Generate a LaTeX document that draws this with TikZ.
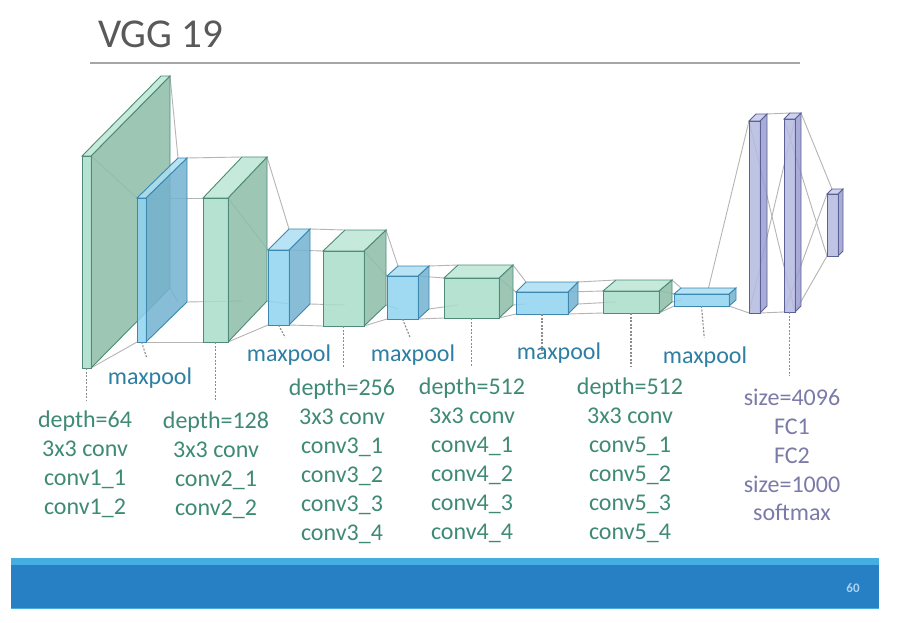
\documentclass[tikz,border=0pt]{standalone}
\usepackage{fontspec}
\setmainfont{Carlito}
\usetikzlibrary{calc}
\definecolor{convfront}{HTML}{A9DDC9}
\definecolor{convtop}{HTML}{BCE7D7}
\definecolor{convside}{HTML}{8DBDA9}
\definecolor{convedge}{HTML}{4F8B78}
\definecolor{poolfront}{HTML}{8FD3F0}
\definecolor{pooltop}{HTML}{ABDFF4}
\definecolor{poolside}{HTML}{73B2D0}
\definecolor{pooledge}{HTML}{3C88AE}
\definecolor{fcfront}{HTML}{B6BAE0}
\definecolor{fctop}{HTML}{C8CBEA}
\definecolor{fcside}{HTML}{9A9ECF}
\definecolor{fcedge}{HTML}{5B6196}
\definecolor{linkgray}{HTML}{B5B5B5}
\definecolor{leadgray}{HTML}{8C8C8C}
\definecolor{convtext}{HTML}{3F8A75}
\definecolor{pooltext}{HTML}{2E7FA3}
\definecolor{fctext}{HTML}{7B7BA8}
\definecolor{titlegray}{HTML}{595959}
\definecolor{rulegray}{HTML}{A6A6A6}
\definecolor{footblue}{HTML}{2780C3}
\definecolor{footlight}{HTML}{45AEE0}
\definecolor{pagenum}{HTML}{A9D2F0}
% corners of one layer: name, front x1, y1, x2, y2, depth dx, dy
\newcommand{\layerat}[7]{%
	\coordinate (#1-ftl) at (#2,#3);
	\coordinate (#1-ftr) at (#4,#3);
	\coordinate (#1-fbl) at (#2,#5);
	\coordinate (#1-fbr) at (#4,#5);
	\coordinate (#1-btl) at (#2+#6,#3-#7);
	\coordinate (#1-btr) at (#4+#6,#3-#7);
	\coordinate (#1-bbl) at (#2+#6,#5-#7);
	\coordinate (#1-bbr) at (#4+#6,#5-#7);
	\coordinate (#1-mid) at ({(#2+#4)/2},#5);
}
\newcommand{\layerdraw}[2]{%
	\filldraw[#2 side] (#1-ftr) -- (#1-btr) -- (#1-bbr) -- (#1-fbr) -- cycle;
	\filldraw[#2 top] (#1-ftl) -- (#1-btl) -- (#1-btr) -- (#1-ftr) -- cycle;
	\filldraw[#2 front] (#1-ftl) -- (#1-ftr) -- (#1-fbr) -- (#1-fbl) -- cycle;
}
\tikzset{
	conv front/.style={fill=convfront, draw=convedge, line width=0.9, fill opacity=0.85},
	conv top/.style={fill=convtop, draw=convedge, line width=0.9, fill opacity=0.85},
	conv side/.style={fill=convside, draw=convedge, line width=0.9, fill opacity=0.85},
	pool front/.style={fill=poolfront, draw=pooledge, line width=0.9, fill opacity=0.85},
	pool top/.style={fill=pooltop, draw=pooledge, line width=0.9, fill opacity=0.85},
	pool side/.style={fill=poolside, draw=pooledge, line width=0.9, fill opacity=0.85},
	fc front/.style={fill=fcfront, draw=fcedge, line width=0.9, fill opacity=0.85},
	fc top/.style={fill=fctop, draw=fcedge, line width=0.9, fill opacity=0.85},
	fc side/.style={fill=fcside, draw=fcedge, line width=0.9, fill opacity=0.85},
	link/.style={draw=linkgray, line width=0.9},
	leader/.style={draw=leadgray, line width=1.1, dash pattern=on 2pt off 1.5pt},
	convlabel/.style={text=convtext, align=center, inner sep=0, anchor=north, font=\fontsize{24}{29}\selectfont},
	poollabel/.style={text=pooltext, inner sep=0, font=\fontsize{24}{29}\selectfont},
	fclabel/.style={text=fctext, align=center, inner sep=0, anchor=north, font=\fontsize{24}{28.8}\selectfont}
}

\begin{document}
\begin{tikzpicture}[x=1pt, y=-1pt]
	%%%%% START %%%%%
	
	\fill[white] (0,0) rectangle (897,623);
	\useasboundingbox (0,0) rectangle (897,623);
	
	\node[anchor=base west, inner sep=0, text=titlegray, font=\fontsize{41}{41}\selectfont] (title) at (98,48) {VGG 19};
	\draw[rulegray, line width=1.3] (90,63) -- (800,63);
	
	\layerat{c1}{82}{156}{91}{368}{79}{80}
	\layerat{p1}{137}{198}{146}{342}{41}{40}
	\layerat{c2}{203}{198}{228}{342}{39}{41}
	\layerat{p2}{268}{250}{289}{325}{21}{21}
	\layerat{c3}{323}{251}{364}{326}{22}{21}
	\layerat{p3}{387}{276}{418}{319}{11}{10}
	\layerat{c4}{444}{278}{499}{318}{14}{13}
	\layerat{p4}{516}{292}{568}{314}{10}{10}
	\layerat{c5}{603}{291}{659}{313}{13}{11}
	\layerat{p5}{674}{294}{729}{306}{7}{6}
	\layerat{fc1}{749}{121}{760}{313}{7}{7}
	\layerat{fc2}{784}{119}{795}{312}{6}{6}
	\layerat{sm}{827}{194}{838}{256}{5}{5}
	
	% links between the layers
	\foreach \a/\b in {c1/p1, p1/c2, c2/p2, p2/c3, c3/p3, p3/c4, c4/p4, p4/c5, c5/p5}{
		\draw[link] (\a-btr) -- (\b-btl);
		\draw[link] (\a-ftr) -- (\b-ftl);
		\draw[link] (\a-fbr) -- (\b-fbl);
		\draw[link] (\a-bbr) -- (\b-bbl);
	}
	\draw[link] ($(p5-btl)!0.5!(p5-btr)$) -- (fc1-ftl);
	\draw[link] (p5-fbr) -- (fc1-fbl);
	\draw[link] (fc1-btr) -- (fc2-btl);
	\draw[link] (fc1-fbr) -- (fc2-fbl);
	\draw[link] (fc1-ftl) -- (fc2-fbr);
	\draw[link] (fc1-fbl) -- (fc2-ftr);
	\draw[link] (fc2-btr) -- (sm-btl);
	\draw[link] (fc2-fbr) -- (sm-fbl);
	\draw[link] (fc2-ftl) -- (sm-fbl);
	\draw[link] (fc2-fbl) -- (sm-ftl);
	
	\layerdraw{c1}{conv}
	\layerdraw{p1}{pool}
	\layerdraw{c2}{conv}
	\layerdraw{p2}{pool}
	\layerdraw{c3}{conv}
	\layerdraw{p3}{pool}
	\layerdraw{c4}{conv}
	\layerdraw{p4}{pool}
	\layerdraw{c5}{conv}
	\layerdraw{p5}{pool}
	\layerdraw{fc1}{fc}
	\layerdraw{fc2}{fc}
	\layerdraw{sm}{fc}
	
	% labels
	\node[convlabel] (c1lab) at (85,411) {depth=64\\3x3 conv\\conv1\_1\\conv1\_2};
	\node[convlabel] (c2lab) at (216,412) {depth=128\\3x3 conv\\conv2\_1\\conv2\_2};
	\node[convlabel] (c3lab) at (342,379) {depth=256\\3x3 conv\\conv3\_1\\conv3\_2\\conv3\_3\\conv3\_4};
	\node[convlabel] (c4lab) at (472,378) {depth=512\\3x3 conv\\conv4\_1\\conv4\_2\\conv4\_3\\conv4\_4};
	\node[convlabel] (c5lab) at (630,378) {depth=512\\3x3 conv\\conv5\_1\\conv5\_2\\conv5\_3\\conv5\_4};
	\node[fclabel] (fclab) at (792,389) {size=4096\\FC1\\FC2\\size=1000\\softmax};
	
	\node[poollabel] (p1lab) at (150,378) {maxpool};
	\node[poollabel] (p2lab) at (289,355) {maxpool};
	\node[poollabel] (p3lab) at (413,355) {maxpool};
	\node[poollabel] (p4lab) at (559,353) {maxpool};
	\node[poollabel] (p5lab) at (705,357) {maxpool};
	
	\foreach \l in {c1, c2, c3, c4, c5}
		\draw[leader, shorten >=11pt] (\l-mid) -- (\l-mid |- \l lab.north);
	\draw[leader, shorten >=13pt] (fc2-mid) -- (fc2-mid |- fclab.north);
	\draw[leader, shorten >=10pt] (p1-mid) -- (p1lab.north);
	\draw[leader, shorten >=8pt] (p2-mid) -- (p2lab.north);
	\draw[leader, shorten >=8pt] (p3-mid) -- (p3lab.north);
	\draw[leader] (p4-mid) -- (p4-mid |- p4lab.center);
	\draw[leader, shorten >=9pt] (p5-mid) -- (p5lab.north);
	
	% footer band
	\fill[footlight] (11,558) rectangle (879,565);
	\fill[footblue] (11,565) rectangle (879,608);
	\draw[footlight, line width=1] (11,608.5) -- (879,608.5);
	\node[text=pagenum, font=\fontsize{13}{13}\selectfont\bfseries] (page) at (853,588) {60};
	
	%%%%% END %%%%%
\end{tikzpicture}
\end{document}
